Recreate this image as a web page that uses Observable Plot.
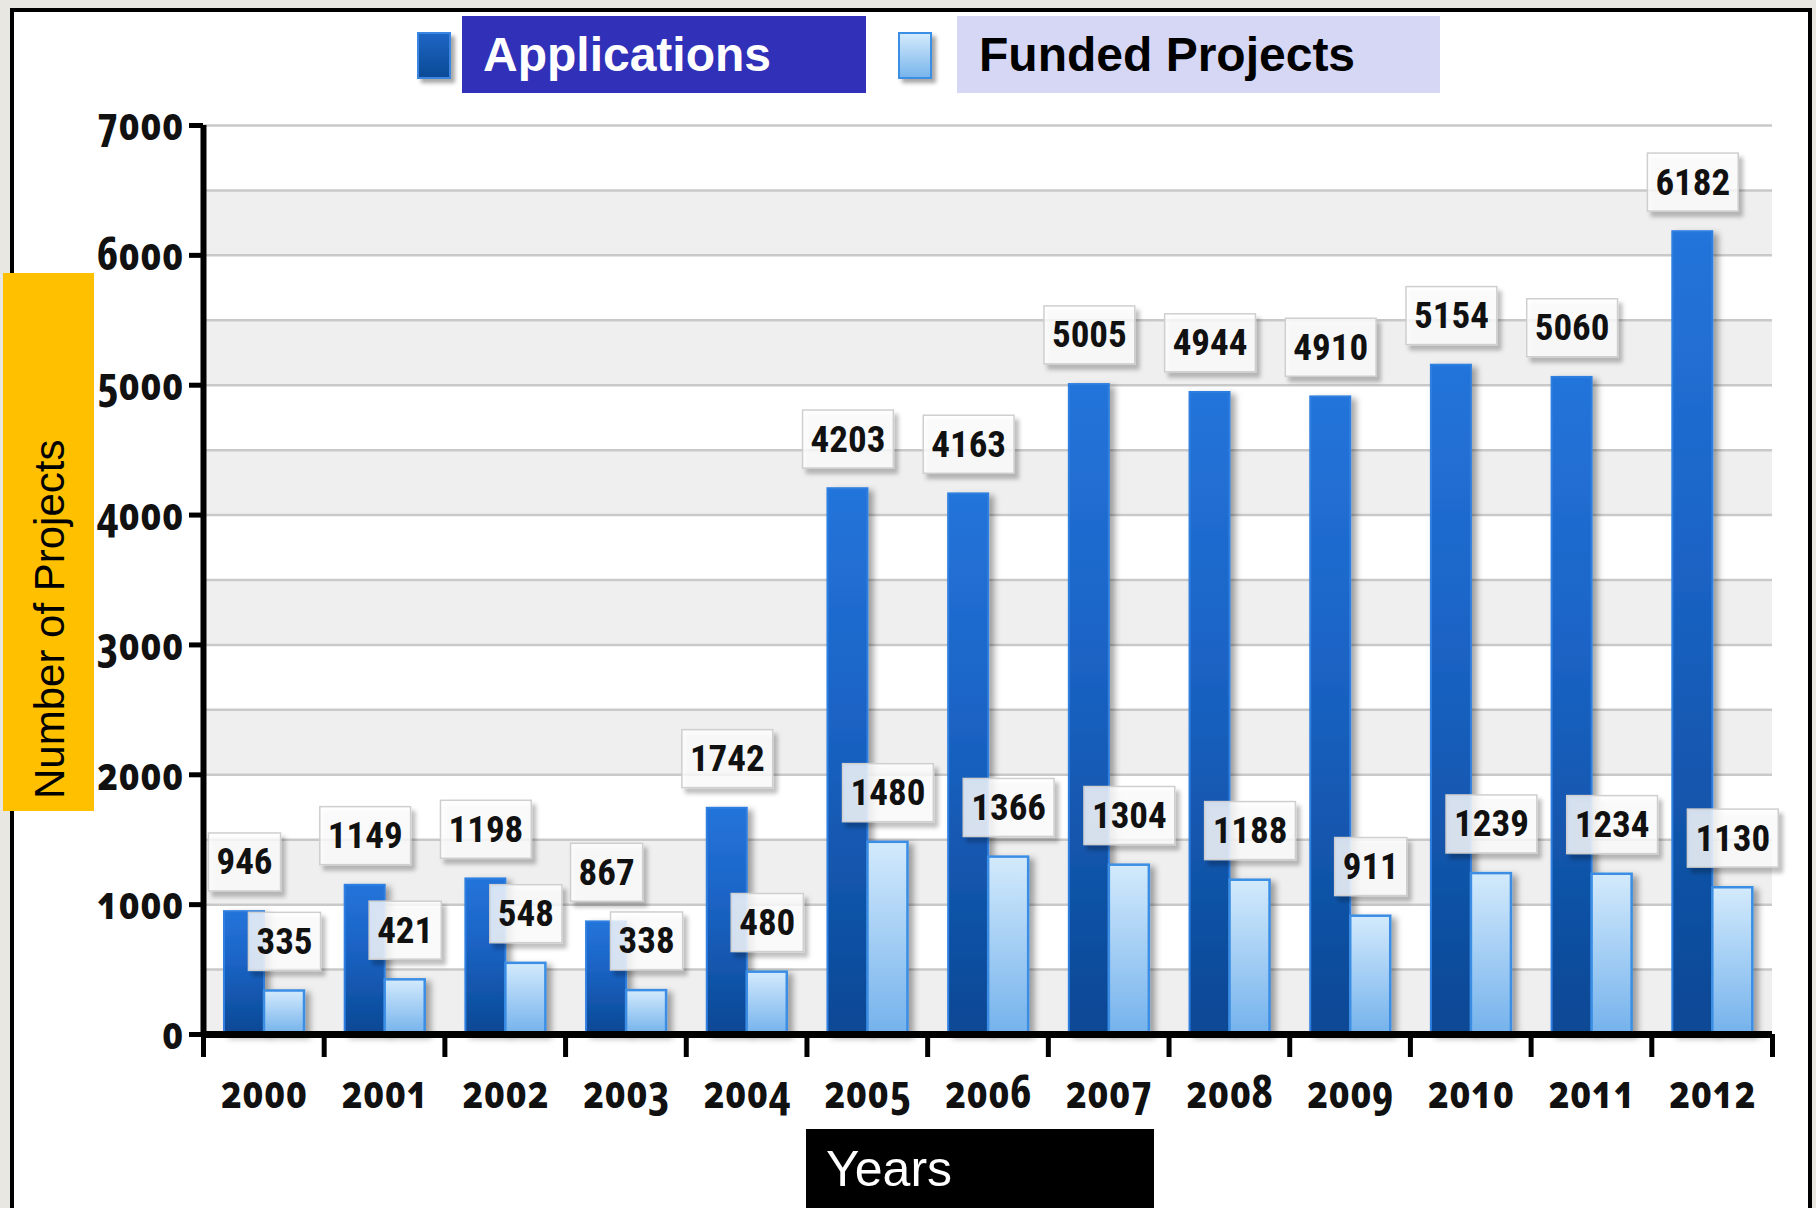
<!DOCTYPE html>
<html>
<head>
<meta charset="utf-8">
<script src="https://cdn.jsdelivr.net/npm/d3@7"></script>
<script src="https://cdn.jsdelivr.net/npm/@observablehq/plot@0.6"></script>
<style>
  html, body { margin: 0; padding: 0; background: #e9e7e2; }
  #wrap { position: relative; width: 1816px; height: 1208px; overflow: hidden; }
  #frame { position: absolute; left: 10px; top: 8px; width: 1802px; height: 1204px; box-sizing: border-box;
           border: 4px solid #000; background: #fff; }
  #chart { position: absolute; left: 0; top: 0; }
  #chart svg g[aria-label$="tick label"] text { font-feature-settings: "onum"; font-stretch: 80%; }
  .legend-box { position: absolute; top: 16px; height: 77px; display: flex; align-items: center; box-sizing: border-box;
                font-family: "Liberation Sans", Arial, sans-serif; font-weight: bold; font-size: 48px; }
  .swatch { position: absolute; top: 32px; width: 34px; height: 47px; box-sizing: border-box;
            box-shadow: 4px 4px 4px rgba(0,0,0,0.35); }
  #ylab { position: absolute; left: 3px; top: 273px; width: 91px; height: 538px; background: #ffc000; }
  #ytext { position: absolute; left: 50px; top: 799px; transform-origin: 0 0; transform: rotate(-90deg) translate(0, -50%);
           font-family: "Liberation Sans", Arial, sans-serif; font-size: 42px; color: #000; white-space: nowrap; line-height: 1; }
  #xlab { position: absolute; left: 806px; top: 1129px; width: 348px; height: 79px; background: #000; }
  #xtext { position: absolute; left: 826px; top: 1144px; font-family: "Liberation Sans", Arial, sans-serif;
           font-size: 50px; color: #fff; line-height: 1; white-space: nowrap; }
</style>
</head>
<body>
<div id="wrap">
  <div id="frame"></div>
  <div id="chart"></div>
  <div class="swatch" style="left:417px; background: linear-gradient(#1e66c4, #0a4a96); border: 2px solid #3a86e0;"></div>
  <div class="legend-box" style="left:462px; width:404px; background:#3030b8; color:#fff; padding-left:21px;">Applications</div>
  <div class="swatch" style="left:898px; background: linear-gradient(#d3eafc, #78b5ec); border: 2px solid #3a8ee4;"></div>
  <div class="legend-box" style="left:957px; width:483px; background:#d6d6f5; color:#000; padding-left:22px;">Funded Projects</div>
  <div id="ylab"></div>
  <div id="ytext">Number of Projects</div>
  <div id="xlab"></div>
  <div id="xtext">Years</div>
</div>
<script>
// ---- data ----
const years = ["2000","2001","2002","2003","2004","2005","2006","2007","2008","2009","2010","2011","2012"];
const applications = [946, 1149, 1198, 867, 1742, 4203, 4163, 5005, 4944, 4910, 5154, 5060, 6182];
const funded = [335, 421, 548, 338, 480, 1480, 1366, 1304, 1188, 911, 1239, 1234, 1130];
const yTicks = [0, 1000, 2000, 3000, 4000, 5000, 6000, 7000];
const gridLines = [500, 1000, 1500, 2000, 2500, 3000, 3500, 4000, 4500, 5000, 5500, 6000, 6500, 7000];
const shadeStarts = [0, 1000, 2000, 3000, 4000, 5000, 6000];

const table = years.map((year, i) => ({year, applications: applications[i], funded: funded[i]}));

const W = 1816, H = 1208, mL = 203, mR = 44, mT = 125, mB = 174;
const bw = (W - mL - mR) / years.length;

const tickFont = {fontFamily: "'Open Sans', Lato, sans-serif", fontWeight: "bold", fontSize: 46, fill: "#111"};
const labelFont = {fontFamily: "'Liberation Sans Narrow', 'Arial Narrow', 'Roboto Condensed', 'DejaVu Sans Condensed', sans-serif",
                   fontWeight: "bold", fontSize: 37, fill: "#111"};

const chart = Plot.plot({
  width: W, height: H,
  marginLeft: mL, marginRight: mR, marginTop: mT, marginBottom: mB,
  style: {background: "transparent", overflow: "visible"},
  x: {type: "band", domain: years, padding: 0, round: false, label: null},
  y: {domain: [0, 7000], label: null},
  marks: [
    Plot.rect(shadeStarts, {y1: d => d, y2: d => d + 500, fill: "#efefef"}),
    Plot.ruleY(gridLines, {stroke: "#c9c9c9", strokeWidth: 2.5}),
    Plot.barY(table, {x: "year", y: "applications", fill: "url(#gApp)", stroke: "#2f7fe0", strokeWidth: 2,
                      insetLeft: 21, insetRight: bw - 61}),
    Plot.barY(table, {x: "year", y: "funded", fill: "url(#gFund)", stroke: "#3a8ee4", strokeWidth: 2.5,
                      insetLeft: 61, insetRight: bw - 101}),
    Plot.ruleY([0], {stroke: "#000", strokeWidth: 7}),
    Plot.ruleX([years[0]], {dx: -bw / 2, y1: 0, y2: 7000, stroke: "#000", strokeWidth: 6}),
    Plot.ruleX(years, {dx: -bw / 2, y1: 0, y2: 0, insetBottom: -23, stroke: "#000", strokeWidth: 5}),
    Plot.ruleX([years[years.length - 1]], {dx: bw / 2, y1: 0, y2: 0, insetBottom: -23, stroke: "#000", strokeWidth: 5}),
    Plot.axisY(yTicks, {tickSize: 14, tickPadding: 6, strokeWidth: 5, stroke: "#000", label: null, tickFormat: d => String(d), ...tickFont}),
    Plot.axisX({tickSize: 0, tickPadding: 41, label: null, ...tickFont}),
    Plot.text(table, {x: "year", y: "applications", text: d => String(d.applications), dx: 41 - bw / 2, dy: -49, ...labelFont}),
    Plot.text(table, {x: "year", y: "funded", text: d => String(d.funded), dx: 81 - bw / 2, dy: -49, ...labelFont})
  ]
});

document.getElementById("chart").appendChild(chart);

const ns = "http://www.w3.org/2000/svg";
const defs = document.createElementNS(ns, "defs");
defs.innerHTML = `
  <linearGradient id="gApp" x1="0" y1="0" x2="0" y2="1">
    <stop offset="0" stop-color="#2474da"/>
    <stop offset="0.4" stop-color="#1b64c6"/>
    <stop offset="1" stop-color="#0a4894"/>
  </linearGradient>
  <linearGradient id="gFund" x1="0" y1="0" x2="0" y2="1">
    <stop offset="0" stop-color="#d3eafc"/>
    <stop offset="1" stop-color="#74b2ec"/>
  </linearGradient>
  <filter id="barShadow" x="-30%" y="-10%" width="170%" height="130%">
    <feDropShadow dx="5" dy="3" stdDeviation="3" flood-color="#000" flood-opacity="0.35"/>
  </filter>
  <filter id="boxShadow" x="-30%" y="-30%" width="170%" height="170%">
    <feDropShadow dx="4" dy="5" stdDeviation="2" flood-color="#000" flood-opacity="0.3"/>
  </filter>`;
chart.insertBefore(defs, chart.firstChild);

chart.querySelectorAll('g[aria-label="bar"]').forEach(g => g.setAttribute("filter", "url(#barShadow)"));

chart.querySelectorAll('g[aria-label="text"]').forEach(g => {
  g.querySelectorAll("text").forEach(t => {
    const b = t.getBBox();
    const r = document.createElementNS(ns, "rect");
    const cy = b.y + b.height / 2;
    r.setAttribute("x", b.x - 8);
    r.setAttribute("width", b.width + 16);
    r.setAttribute("y", cy - 29);
    r.setAttribute("height", 58);
    r.setAttribute("fill", "#fff");
    r.setAttribute("fill-opacity", "0.8");
    r.setAttribute("stroke", "#cfcfcf");
    r.setAttribute("stroke-width", "1.5");
    r.setAttribute("filter", "url(#boxShadow)");
    const tr = t.getAttribute("transform");
    if (tr) r.setAttribute("transform", tr);
    g.insertBefore(r, t);
  });
});
</script>
</body>
</html>
